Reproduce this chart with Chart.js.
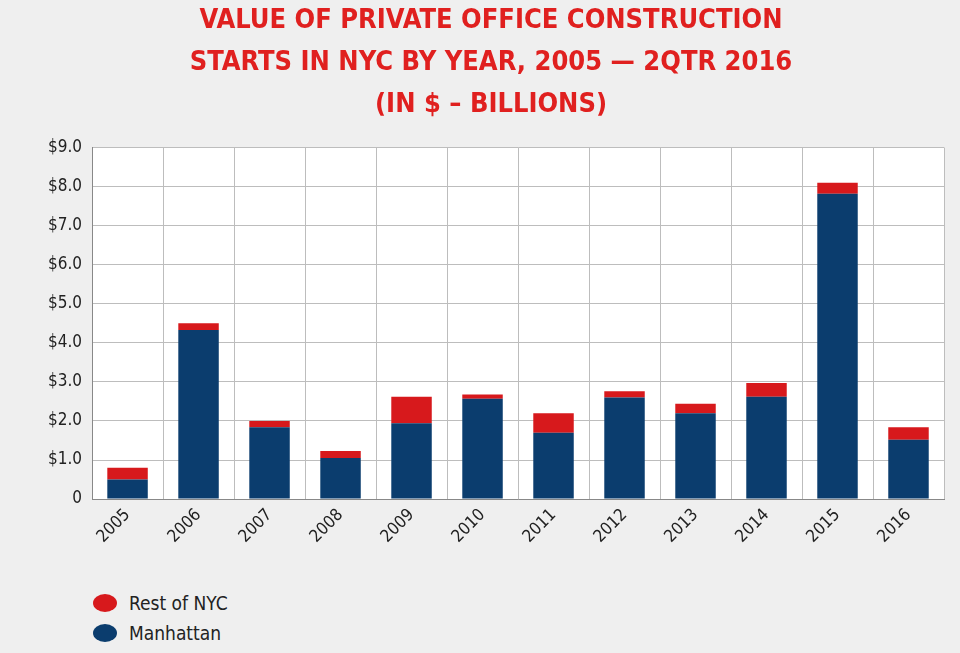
<!DOCTYPE html>
<html>
<head>
<meta charset="utf-8">
<script src="https://cdn.jsdelivr.net/npm/chart.js@4"></script>
<style>
  body { margin: 0; background: #efefef; width: 960px; height: 653px; overflow: hidden; font-family: "DejaVu Sans Condensed", "Liberation Sans", sans-serif; }
  #wrap { position: absolute; left: 0; top: 0; width: 960px; height: 553px; }
  #legend { position: absolute; left: 93px; top: 588px; font-size: 19px; color: #222; }
  #legend div { display: flex; align-items: center; height: 30px; }
  #legend span { display: inline-block; width: 24px; height: 18px; border-radius: 50%; margin-right: 12px; }
</style>
</head>
<body>
<div id="wrap"><canvas id="chart"></canvas></div>
<div id="legend"></div>
<script>
var years = ["2005", "2006", "2007", "2008", "2009", "2010", "2011", "2012", "2013", "2014", "2015", "2016"];
var manhattan = [0.5, 4.33, 1.84, 1.05, 1.94, 2.57, 1.7, 2.6, 2.2, 2.62, 7.82, 1.52];
var restOfNyc = [0.3, 0.17, 0.16, 0.18, 0.68, 0.11, 0.5, 0.16, 0.24, 0.35, 0.28, 0.32];
var yTicks = [0, 1, 2, 3, 4, 5, 6, 7, 8, 9];

var red = "#d7191c";
var blue = "#0b3d6e";

var datasets = [
  { label: "Manhattan", data: manhattan, backgroundColor: blue },
  { label: "Rest of NYC", data: restOfNyc, backgroundColor: red }
];

// legend lists Rest of NYC first
var legend = document.getElementById("legend");
datasets.slice().reverse().forEach(function (ds) {
  var row = document.createElement("div");
  row.innerHTML = '<span style="background:' + ds.backgroundColor + '"></span>' + ds.label;
  legend.appendChild(row);
});

var ctx = document.getElementById("chart").getContext("2d");
new Chart(ctx, {
  type: "bar",
  data: { labels: years, datasets: datasets },
  options: {
    responsive: true,
    maintainAspectRatio: false,
    animation: false,
    barPercentage: 0.57,
    categoryPercentage: 1.0,
    layout: { padding: { left: 38, right: 16, top: 0, bottom: 0 } },
    plugins: {
      legend: { display: false },
      tooltip: { enabled: false },
      title: {
        display: true,
        text: ["VALUE OF PRIVATE OFFICE CONSTRUCTION", "STARTS IN NYC BY YEAR, 2005 \u2014 2QTR 2016", "(IN $ \u2013 BILLIONS)"],
        color: "#e0201f",
        font: { family: "DejaVu Sans Condensed", size: 27, weight: "bold", lineHeight: 1.55 },
        padding: { top: 0, bottom: 22 }
      }
    },
    scales: {
      x: {
        stacked: true,
        grid: { color: "#bdbdbd", drawTicks: false },
        border: { color: "#888" },
        ticks: {
          color: "#222",
          maxRotation: 45,
          minRotation: 45,
          padding: 6,
          font: { family: "DejaVu Sans Condensed", size: 17 }
        }
      },
      y: {
        stacked: true,
        min: 0,
        max: 9,
        afterBuildTicks: function (axis) {
          axis.ticks = yTicks.map(function (v) { return { value: v }; });
        },
        grid: { color: "#bdbdbd", drawTicks: false },
        border: { color: "#888" },
        ticks: {
          color: "#222",
          padding: 10,
          font: { family: "DejaVu Sans Condensed", size: 17 },
          callback: function (v) { return v === 0 ? "0" : "$" + v.toFixed(1); }
        }
      }
    }
  },
  plugins: [{
    id: "plotBg",
    beforeDraw: function (chart) {
      var a = chart.chartArea;
      chart.ctx.save();
      chart.ctx.fillStyle = "#ffffff";
      chart.ctx.fillRect(a.left, a.top, a.right - a.left, a.bottom - a.top);
      chart.ctx.restore();
    }
  }]
});
</script>
</body>
</html>
